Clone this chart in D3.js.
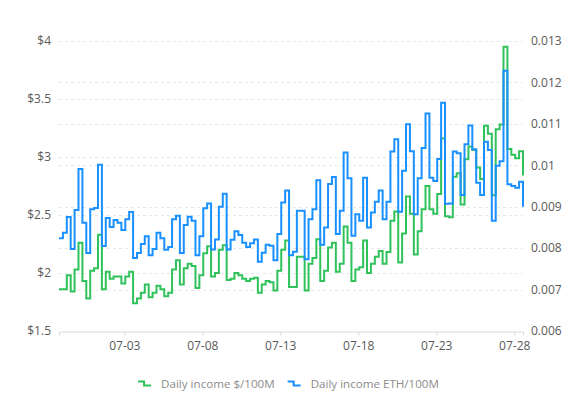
<!DOCTYPE html>
<html>
<head>
<meta charset="utf-8">
<script src="https://d3js.org/d3.v7.min.js"></script>
<style>
  body { margin: 0; background: #fff; }
  text { font-family: "Open Sans", "Noto Sans", sans-serif; }
</style>
</head>
<body>
<div id="chart"></div>
<script>
// one reading every 6 hours, starting on the evening of 06-28
var startTime = Date.UTC(2021, 5, 28, 19, 30);
var stepHours = 6;

var seriesNames = ["Daily income $/100M", "Daily income ETH/100M"];
var seriesColors = ["#2FC25B", "#1890FF"];

var usdIncome = [1.86,1.86,1.98,1.84,2.03,2.26,1.93,1.78,2.02,2.04,
  2.33,1.86,2.01,1.95,1.97,1.97,1.91,1.97,2.01,1.74,
  1.78,1.83,1.90,1.79,1.83,1.89,1.86,1.80,1.83,2.03,
  2.11,1.90,2.04,2.08,2.06,1.87,1.98,2.17,2.23,1.97,
  2.00,2.20,2.24,1.94,1.95,2.00,1.98,1.95,1.93,1.95,
  1.96,1.83,1.90,1.93,1.92,1.85,2.02,2.20,2.28,1.88,
  1.88,2.14,2.14,1.85,2.08,2.13,2.29,1.93,2.02,2.22,
  2.26,2.01,2.08,2.40,2.26,1.93,2.03,2.05,2.28,2.00,
  2.08,2.14,2.19,2.08,2.18,2.45,2.53,2.09,2.34,2.66,
  2.51,2.16,2.36,2.55,2.75,2.55,2.51,2.68,3.16,2.49,
  2.48,2.83,2.86,2.59,2.98,3.09,3.06,2.91,2.81,3.27,
  3.20,2.67,3.24,3.28,3.95,3.07,3.02,2.99,3.05,2.84];

var ethIncome = [0.00824,0.00837,0.00875,0.00798,0.00892,0.00991,0.00861,0.00788,0.00894,0.00897,
  0.01001,0.00805,0.00873,0.00851,0.00868,0.00861,0.00844,0.00870,0.00887,0.00776,
  0.00788,0.00810,0.00829,0.00783,0.00798,0.00837,0.00824,0.00796,0.00803,0.00870,
  0.00878,0.00788,0.00856,0.00876,0.00866,0.00783,0.00829,0.00896,0.00908,0.00797,
  0.00821,0.00900,0.00931,0.00797,0.00820,0.00841,0.00832,0.00813,0.00803,0.00812,
  0.00821,0.00767,0.00789,0.00808,0.00806,0.00771,0.00834,0.00910,0.00939,0.00783,
  0.00791,0.00890,0.00890,0.00773,0.00870,0.00894,0.00964,0.00808,0.00850,0.00955,
  0.00972,0.00834,0.00890,0.01031,0.00969,0.00830,0.00882,0.00866,0.00970,0.00850,
  0.00886,0.00912,0.00939,0.00870,0.00912,0.01033,0.01063,0.00888,0.00987,0.01099,
  0.01034,0.00882,0.00969,0.01042,0.01125,0.00970,0.00962,0.01015,0.01151,0.00907,
  0.00908,0.01033,0.01029,0.00928,0.01051,0.01096,0.01039,0.00958,0.00928,0.01057,
  0.01037,0.00866,0.00999,0.01010,0.01228,0.00954,0.00950,0.00946,0.00960,0.00900];

var xTickLabels = ["07-03", "07-08", "07-13", "07-18", "07-23", "07-28"];
var leftTicks = [1.5, 2, 2.5, 3, 3.5, 4];
var rightTicks = [0.006, 0.007, 0.008, 0.009, 0.01, 0.011, 0.012, 0.013];

var W = 579, H = 393;
var margin = {top: 41, right: 56, bottom: 62, left: 59};
var width = W - margin.left - margin.right,
    height = H - margin.top - margin.bottom;

var times = usdIncome.map(function(d, i) { return new Date(startTime + i * stepHours * 3600e3); });
var data = times.map(function(t, i) { return {t: t, usd: usdIncome[i], eth: ethIncome[i]}; });

var svg = d3.select("#chart").append("svg")
    .attr("width", W).attr("height", H)
  .append("g")
    .attr("transform", "translate(" + margin.left + "," + margin.top + ")");

var x = d3.scaleUtc()
    .domain(d3.extent(times))
    .range([0, width]);
var yL = d3.scaleLinear().domain([1.5, 4]).range([height, 0]);
var yR = d3.scaleLinear().domain([0.006, 0.013]).range([height, 0]);

// dashed grid from both axes
function grid(scale, ticks) {
  svg.append("g").selectAll("line")
    .data(ticks.slice(1))
    .enter().append("line")
      .attr("x1", 0).attr("x2", width)
      .attr("y1", function(d) { return Math.round(scale(d)) + 0.5; })
      .attr("y2", function(d) { return Math.round(scale(d)) + 0.5; })
      .attr("stroke", "#e8e8e8")
      .attr("stroke-dasharray", "3,3");
}
grid(yL, leftTicks);
grid(yR, rightTicks);

// x axis
var parseTick = d3.utcParse("%m-%d");
var tickDates = xTickLabels.map(function(s) {
  var d = parseTick(s); d.setUTCFullYear(2021); return d;
});
var gx = svg.append("g")
    .attr("transform", "translate(0," + (height + 0.5) + ")")
    .call(d3.axisBottom(x).tickValues(tickDates).tickFormat(d3.utcFormat("%m-%d")).tickSize(4).tickPadding(6));
gx.select(".domain").attr("stroke", "#d9d9d9");
gx.selectAll(".tick line").attr("stroke", "#d9d9d9");
gx.selectAll("text").attr("fill", "#595959").style("font-size", "12px");

var gl = svg.append("g")
    .call(d3.axisLeft(yL).tickValues(leftTicks).tickFormat(function(d) { return "$" + d; }).tickSize(0).tickPadding(8));
gl.select(".domain").remove();
gl.selectAll("text").attr("fill", "#595959").style("font-size", "12px");

var gr = svg.append("g")
    .attr("transform", "translate(" + width + ",0)")
    .call(d3.axisRight(yR).tickValues(rightTicks).tickFormat(d3.format("")).tickSize(0).tickPadding(8));
gr.select(".domain").remove();
gr.selectAll("text").attr("fill", "#595959").style("font-size", "12px");

// step lines
var lineUsd = d3.line().curve(d3.curveStepAfter)
    .x(function(d) { return x(d.t); })
    .y(function(d) { return yL(d.usd); });
var lineEth = d3.line().curve(d3.curveStepAfter)
    .x(function(d) { return x(d.t); })
    .y(function(d) { return yR(d.eth); });

svg.append("path").datum(data)
    .attr("fill", "none").attr("stroke", seriesColors[0]).attr("stroke-width", 2)
    .attr("d", lineUsd);
svg.append("path").datum(data)
    .attr("fill", "none").attr("stroke", seriesColors[1]).attr("stroke-width", 2)
    .attr("d", lineEth);

// legend
var legend = d3.select("svg").append("g");
var lx = 0;
seriesNames.forEach(function(name, i) {
  var item = legend.append("g").attr("transform", "translate(" + lx + ",0)");
  item.append("path")
    .attr("d", "M0,-2.5H6V1.5H13")
    .attr("fill", "none").attr("stroke", seriesColors[i]).attr("stroke-width", 2);
  var t = item.append("text")
    .attr("x", 23).attr("y", 0).attr("dy", "0.35em")
    .attr("fill", "#8c8c8c").style("font-size", "11.6px")
    .text(name);
  lx += 23 + t.node().getComputedTextLength() + 13;
});
var legendW = lx - 13;
legend.attr("transform", "translate(" + (288.5 - legendW / 2) + ",384)");
</script>
</body>
</html>
